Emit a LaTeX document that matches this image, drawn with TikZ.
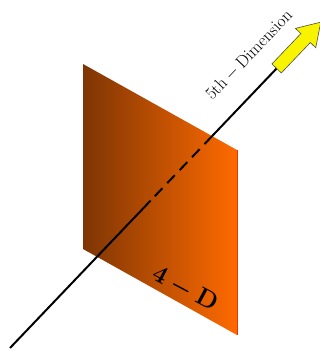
\documentclass[tikz,border=0pt]{standalone}
\usetikzlibrary{calc}
\definecolor{planeL}{HTML}{7E3504}
\definecolor{planeR}{HTML}{FF6A00}
\definecolor{edgeR}{HTML}{E8320A}
\definecolor{arrowY}{HTML}{F8F400}
\newcommand{\fourdlabel}{\mbox{\fontsize{26}{30}\selectfont\boldmath$\mathbf{4-D}$}}
\tikzset{
  axisline/.style={line width=2pt, black},
  behind/.style={line width=2pt, black, dash pattern=on 11pt off 7pt},
  fatarrow/.style={fill=arrowY, draw=black!70, line width=0.6pt, line join=miter},
}
\begin{document}
\begin{tikzpicture}[x=1pt,y=1pt]
\useasboundingbox (0,0) rectangle (320,351);
% plane corners
\coordinate (TL) at (83,287);
\coordinate (TR) at (237,201);
\coordinate (BR) at (237,16);
\coordinate (BL) at (83,102);
\shade[left color=planeL, right color=planeR] (TL) -- (TR) -- (BR) -- (BL) -- cycle;
\draw[edgeR, line width=1pt] (TR) -- (BR);
% axis
\coordinate (P0) at (10,3);
\coordinate (P1) at (278,284);
\coordinate (A) at ($(P0)!0.525!(P1)$);
\coordinate (B) at ($(P0)!0.754!(P1)$);
\draw[axisline] (P0) -- (A);
\draw[behind] (B) -- (A);
\draw[axisline] (B) -- (P1);
% fat arrow
\begin{scope}[shift={(P1)}, rotate=46.35]
\draw[fatarrow] (-2,-6.5) -- (40,-6.5) -- (40,-14) -- (62,0) -- (40,14) -- (40,6.5) -- (-2,6.5) -- cycle;
\end{scope}
% labels
\node[rotate=46.35, inner sep=0pt] (dim) at (249,296) {\fontsize{19}{22}\selectfont $\mathrm{5th}-\mathrm{Dimension}$};
\node[rotate=-28, inner sep=0pt] (fourd) at (185,62) {\fourdlabel};
\end{tikzpicture}
\end{document}
